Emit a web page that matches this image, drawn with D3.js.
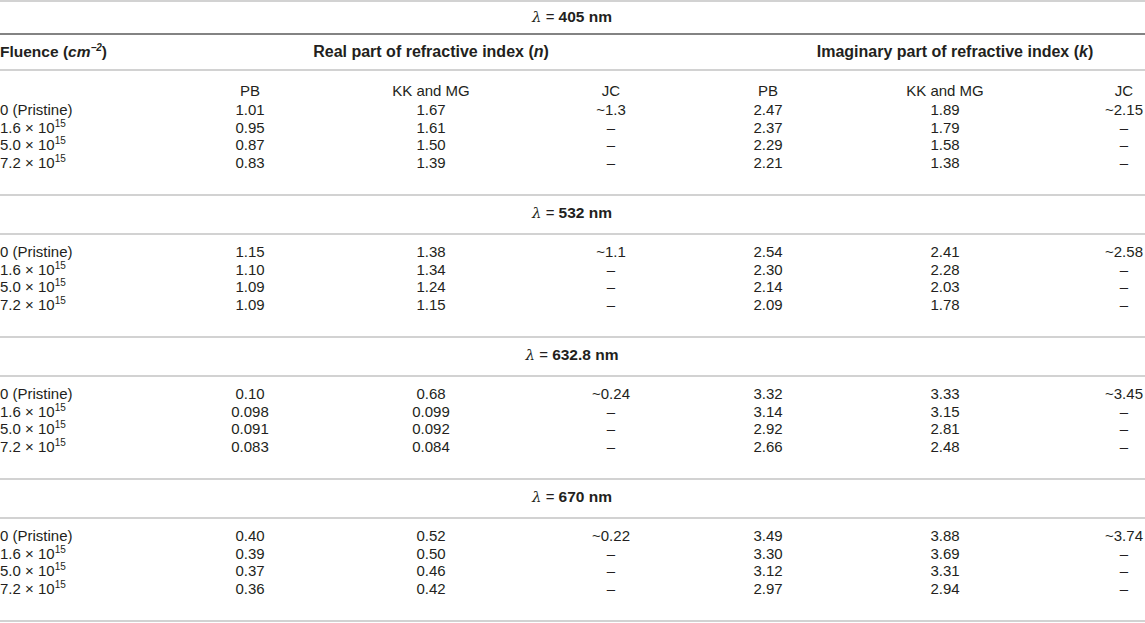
<!DOCTYPE html>
<html>
<head>
<meta charset="utf-8">
<script src="https://cdn.jsdelivr.net/npm/d3@7"></script>
<style>
  body { margin: 0; background: #fff; }
  svg text { font-family: "Liberation Sans", Arial, sans-serif; font-size: 15px; fill: #231f20; }
</style>
</head>
<body>
<svg id="tbl" width="1145" height="623"></svg>
<script>
// table values (kept as text so the printed precision stays as in the source)
var wavelengths = ["405", "532", "632.8", "670"];
var fluenceMant = ["1.6", "5.0", "7.2"];
var methods = ["PB", "KK and MG", "JC"];

var realPB = [["1.01","0.95","0.87","0.83"], ["1.15","1.10","1.09","1.09"], ["0.10","0.098","0.091","0.083"], ["0.40","0.39","0.37","0.36"]];
var realKK = [["1.67","1.61","1.50","1.39"], ["1.38","1.34","1.24","1.15"], ["0.68","0.099","0.092","0.084"], ["0.52","0.50","0.46","0.42"]];
var realJC = ["~1.3", "~1.1", "~0.24", "~0.22"];
var imagPB = [["2.47","2.37","2.29","2.21"], ["2.54","2.30","2.14","2.09"], ["3.32","3.14","2.92","2.66"], ["3.49","3.30","3.12","2.97"]];
var imagKK = [["1.89","1.79","1.58","1.38"], ["2.41","2.28","2.03","1.78"], ["3.33","3.15","2.81","2.48"], ["3.88","3.69","3.31","2.94"]];
var imagJC = ["~2.15", "~2.58", "~3.45", "~3.74"];

var svg = d3.select("#tbl");
var W = 1145;

// column centres
var colKeys = ["rPB","rKK","rJC","iPB","iKK","iJC"];
var x = d3.scaleOrdinal().domain(colKeys).range([250, 431, 611, 768, 945, 1124]);

// section geometry: line y at top of each section
var secTop = d3.scaleLinear().domain([1, 3]).range([195, 479]);
var rowY = d3.scaleLinear().domain([0, 1]).range([0, 17.5]);

function hline(y, color, w){
  svg.append("line").attr("x1", 0).attr("x2", W).attr("y1", y).attr("y2", y)
    .attr("stroke", color).attr("stroke-width", w);
}
function txt(xp, y, anchor){
  return svg.append("text").attr("x", xp).attr("y", y + 5).attr("text-anchor", anchor || "middle");
}
function lambdaTitle(y, wl){
  var t = txt(572, y);
  t.append("tspan").attr("font-style", "italic").attr("font-family", "DejaVu Serif").attr("font-size", "15px").text("λ");
  t.append("tspan").text(" = ");
  t.append("tspan").attr("font-weight", "bold").attr("font-size", "15.5px").text(wl + " nm");
}

// header block
hline(1, "#d2d2d2", 2);
lambdaTitle(17, wavelengths[0]);
hline(34, "#5a5a5a", 1.5);
var fh = txt(0, 52, "start").attr("font-weight", "bold").style("font-size", "15.5px");
fh.append("tspan").text("Fluence (");
fh.append("tspan").attr("font-style", "italic").text("cm");
fh.append("tspan").attr("font-style", "italic").attr("font-size", "10px").attr("dy", -6).text("−2");
fh.append("tspan").attr("dy", 6).text(")");
var rh = txt(431, 52).attr("font-weight", "bold").style("font-size", "16px");
rh.append("tspan").text("Real part of refractive index (");
rh.append("tspan").attr("font-style", "italic").text("n");
rh.append("tspan").text(")");
var ih = txt(955, 52).attr("font-weight", "bold").style("font-size", "16px");
ih.append("tspan").text("Imaginary part of refractive index (");
ih.append("tspan").attr("font-style", "italic").text("k");
ih.append("tspan").text(")");
hline(70, "#d2d2d2", 2);
colKeys.forEach(function(k, i){ txt(x(k), 91).text(methods[i % 3]); });

function rows(s, y0){
  d3.range(4).forEach(function(r){
    var y = y0 + rowY(r);
    var f = txt(0, y, "start");
    if (r === 0) {
      f.text("0 (Pristine)");
    } else {
      f.append("tspan").text(fluenceMant[r - 1] + " × 10");
      f.append("tspan").attr("font-size", "10px").attr("dy", -6).text("15");
    }
    txt(x("rPB"), y).text(realPB[s][r]);
    txt(x("rKK"), y).text(realKK[s][r]);
    txt(x("rJC"), y).text(r === 0 ? realJC[s] : "–");
    txt(x("iPB"), y).text(imagPB[s][r]);
    txt(x("iKK"), y).text(imagKK[s][r]);
    txt(x("iJC"), y).text(r === 0 ? imagJC[s] : "–");
  });
}

rows(0, 110);
for (var s = 1; s < wavelengths.length; s++) {
  var secY = secTop(s);
  hline(secY, "#d2d2d2", 2);
  lambdaTitle(secY + 18, wavelengths[s]);
  hline(secY + 39, "#d2d2d2", 2);
  rows(s, secY + 57);
}
hline(621, "#d2d2d2", 2);
</script>
</body>
</html>
